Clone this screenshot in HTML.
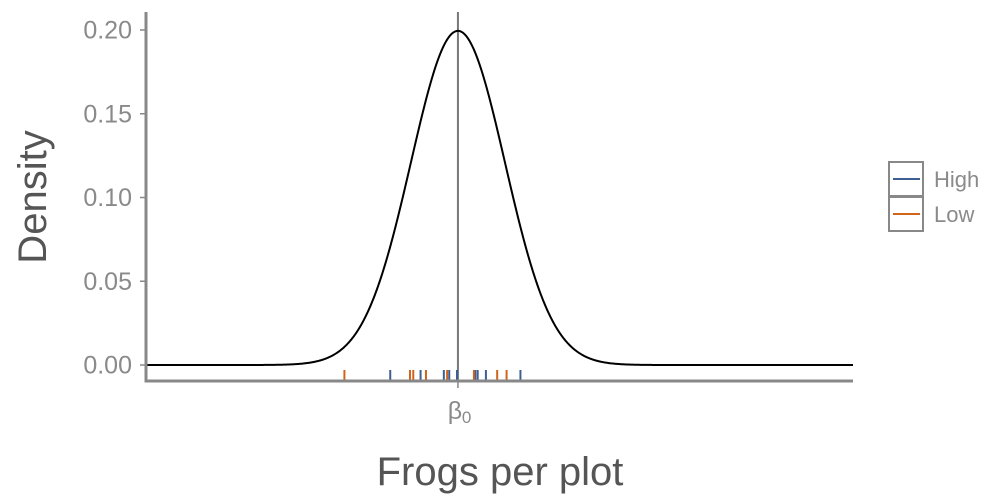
<!DOCTYPE html>
<html><head><meta charset="utf-8"><style>
body{margin:0;background:#fff}
svg{display:block;font-family:"Liberation Sans",sans-serif}
</style></head><body>
<svg id="c" width="1008" height="504" viewBox="0 0 1008 504"></svg>
<script>
const yTicks=[0,0.05,0.10,0.15,0.20];
const yTickLabels=["0.00","0.05","0.10","0.15","0.20"];
const lowValues=[-4.83,-2.04,-1.90,-1.36,-0.46,0.68,1.67,2.07];
const highValues=[-2.88,-1.59,-0.60,-0.37,-0.04,0.74,0.84,1.19,2.66];
const beta0=0;
const sd=2;
const xMin=-13.23,xMax=16.81;
const NS="http://www.w3.org/2000/svg";
const svg=document.getElementById('c');
const X=v=>147+(v-xMin)/(xMax-xMin)*(853-147);
const Y=v=>365-v/0.2*335;
function el(t,a,txt){const e=document.createElementNS(NS,t);for(const k in a)e.setAttribute(k,a[k]);if(txt!==undefined)e.textContent=txt;svg.appendChild(e);return e;}
yTicks.forEach((t,i)=>{
 const l=el('line',{x1:140,x2:145,y1:Y(t),y2:Y(t),stroke:'#888','stroke-width':1.5});
 
 
 const tx=el('text',{x:132,y:Y(t)+8.5,'text-anchor':'end','font-size':25,fill:'#8a8a8a'},yTickLabels[i]);
 
 
});
const vl=el('line',{x1:X(beta0),x2:X(beta0),y1:12,y2:381,stroke:'#777','stroke-width':2});


let d='';
for(let i=0;i<=700;i++){const v=xMin+(xMax-xMin)*i/700;const p=Math.exp(-0.5*(v/sd)**2)/(sd*Math.sqrt(2*Math.PI));d+=(i?'L':'M')+X(v).toFixed(2)+','+Y(p).toFixed(2);}
const cu=el('path',{d:d,fill:'none',stroke:'#000','stroke-width':2});


highValues.forEach(v=>{const r=el('line',{x1:X(v),x2:X(v),y1:370,y2:380,stroke:'#3d5f94','stroke-width':2});
 
 });
lowValues.forEach(v=>{const r=el('line',{x1:X(v),x2:X(v),y1:370,y2:380,stroke:'#d2631a','stroke-width':2});
 
 });
const ya=el('line',{x1:146,x2:146,y1:12,y2:382.5,stroke:'#888','stroke-width':3});


const xa=el('line',{x1:146,x2:853,y1:381,y2:381,stroke:'#888','stroke-width':3});


const xt=el('line',{x1:X(beta0),x2:X(beta0),y1:382,y2:388,stroke:'#888','stroke-width':1.5});


const bl=el('text',{x:X(beta0)-3,y:419,'text-anchor':'middle','font-size':25,fill:'#8a8a8a'},'β');


const sub=el('text',{x:X(beta0)+4,y:423,'font-size':17,fill:'#8a8a8a'},'0');


const xl=el('text',{x:500,y:485,'text-anchor':'middle','font-size':40,fill:'#555'},'Frogs per plot');


const yl=el('text',{x:0,y:0,'text-anchor':'middle','font-size':40,fill:'#555',transform:'translate(46,197) rotate(-90)'},'Density');


[['High','#3d5f94',162],['Low','#d2631a',197]].forEach(([n,c,y])=>{
 const b=el('rect',{x:889,y:y,width:34,height:34,fill:'#fff',stroke:'#888','stroke-width':2});
 
 
 el('line',{x1:893,x2:920,y1:y+17,y2:y+17,stroke:c,'stroke-width':2});
 const t=el('text',{x:934,y:y+25,'font-size':22,fill:'#8a8a8a'},n);
 
 
});
</script>
</body></html>
